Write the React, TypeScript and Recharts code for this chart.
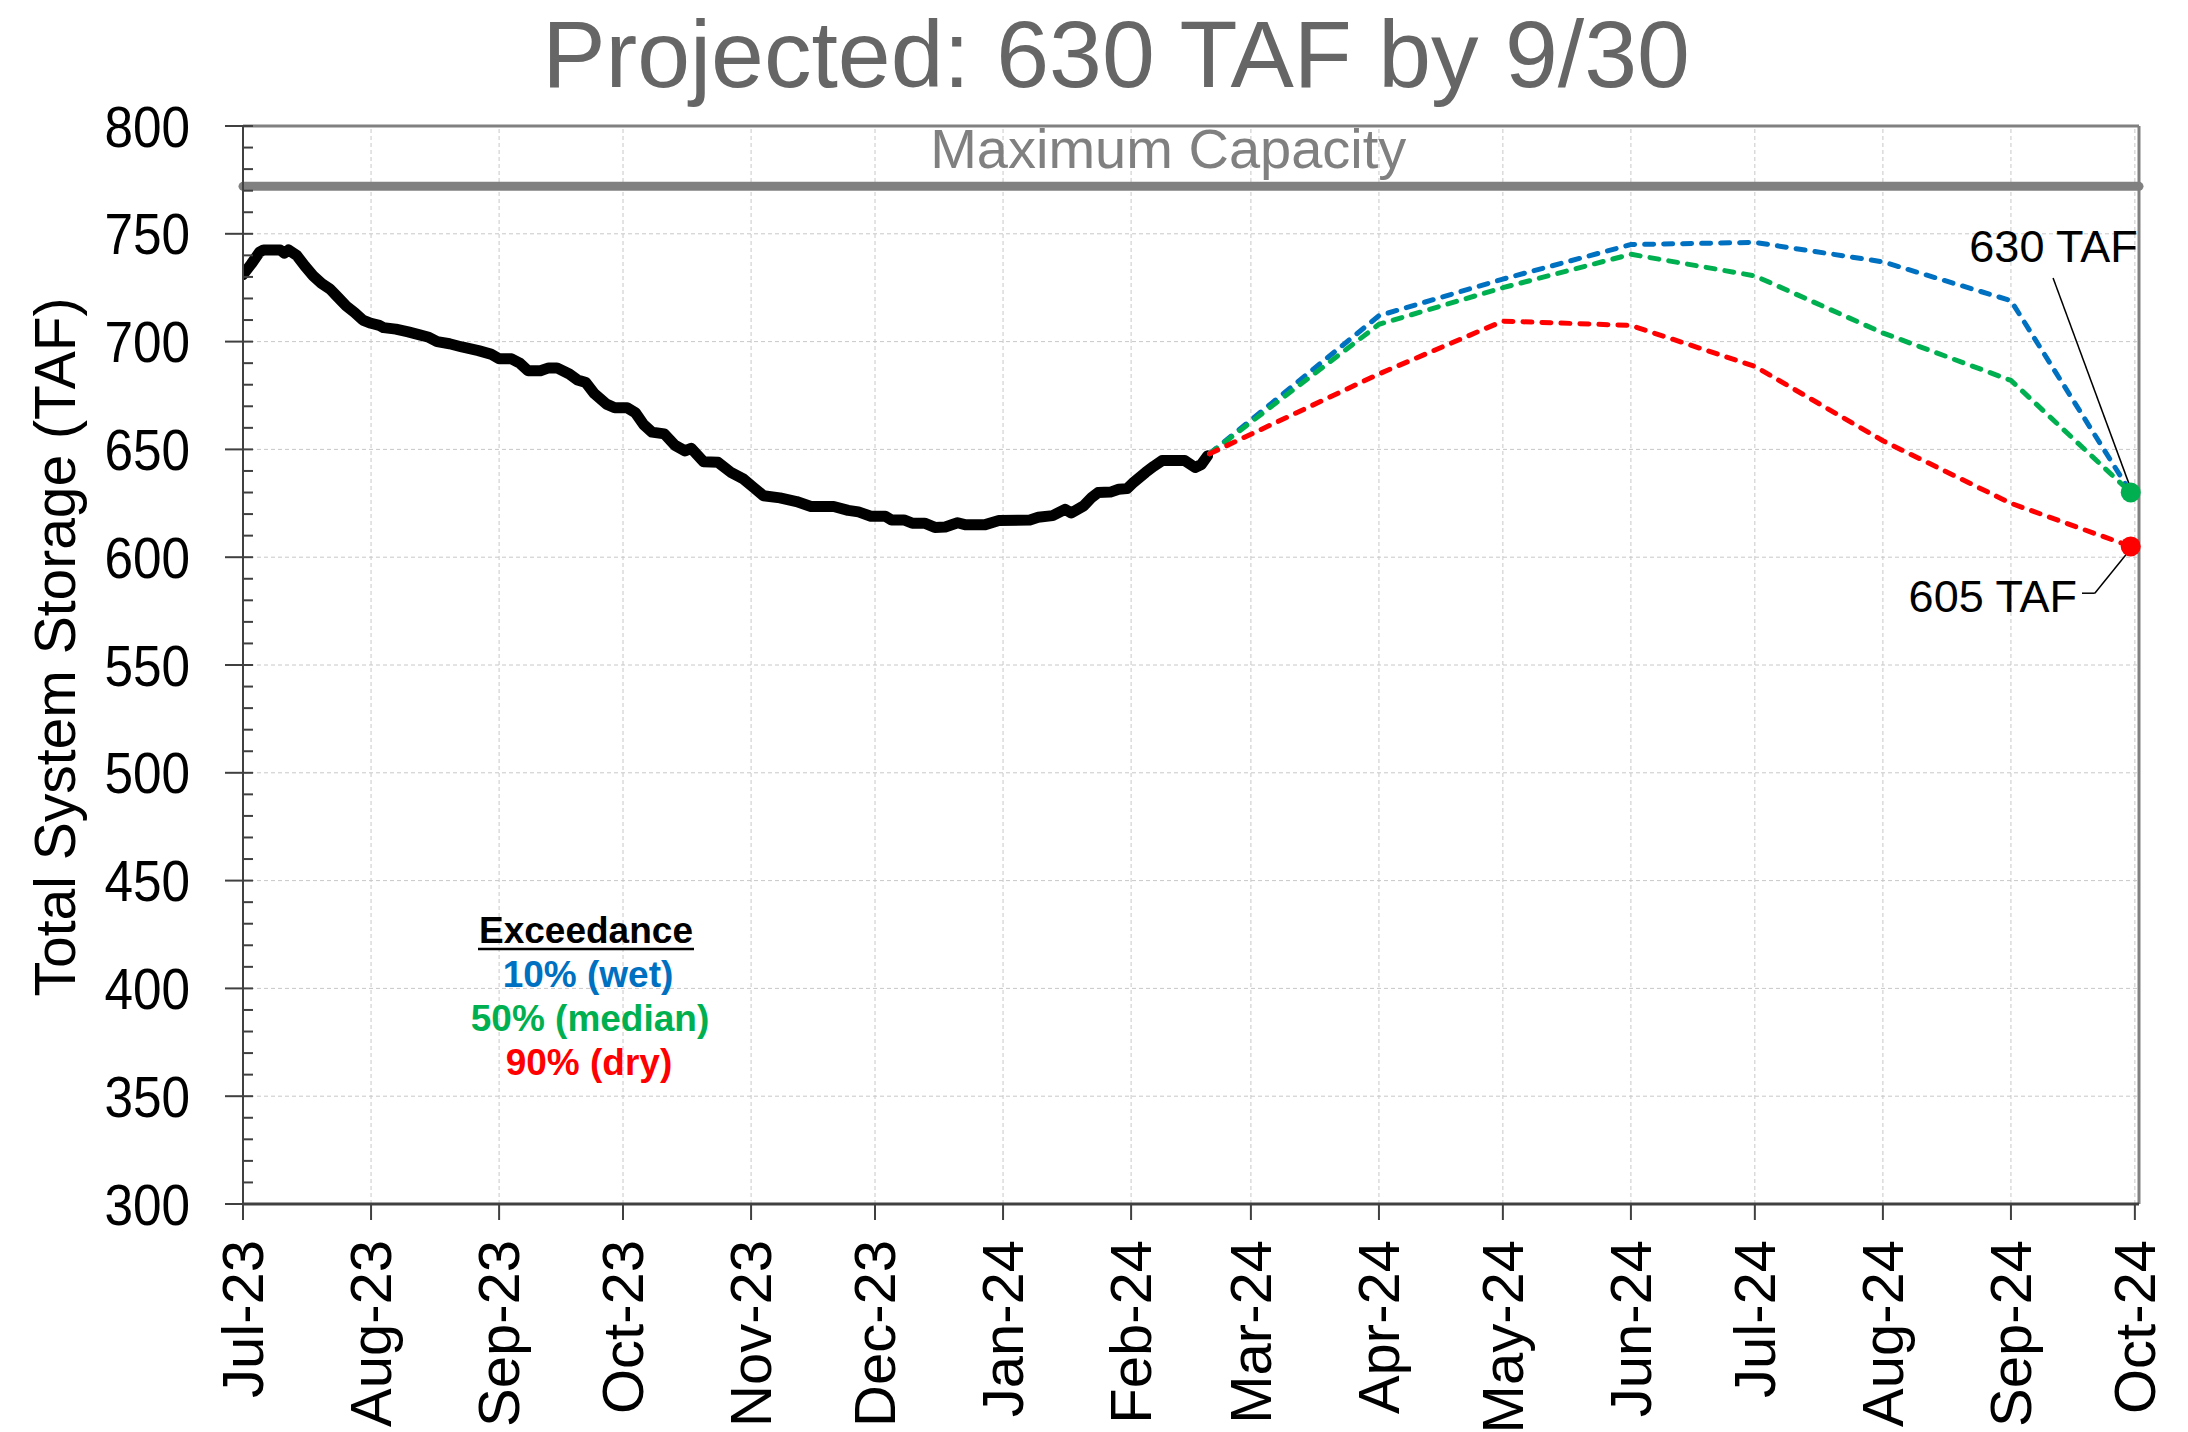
import React from 'react';
import { LineChart, Line, XAxis, YAxis, ReferenceLine, ReferenceDot } from 'recharts';

const FONT = '"Liberation Sans", Arial, Helvetica, sans-serif';

// X axis: days since 1 Jul 2023, ticks at month starts
const monthTickDays = [0, 31, 62, 92, 123, 153, 184, 215, 244, 275, 305, 336, 366, 397, 428, 458];
const monthTickLabels = ['Jul-23', 'Aug-23', 'Sep-23', 'Oct-23', 'Nov-23', 'Dec-23', 'Jan-24', 'Feb-24', 'Mar-24', 'Apr-24', 'May-24', 'Jun-24', 'Jul-24', 'Aug-24', 'Sep-24', 'Oct-24'];
const xMax = 459;

const yTickValues = [300, 310, 320, 330, 340, 350, 360, 370, 380, 390, 400, 410, 420, 430, 440, 450, 460, 470, 480, 490, 500, 510, 520, 530, 540, 550, 560, 570, 580, 590, 600, 610, 620, 630, 640, 650, 660, 670, 680, 690, 700, 710, 720, 730, 740, 750, 760, 770, 780, 790, 800];
const yGridValues = [350, 400, 450, 500, 550, 600, 650, 700, 750];

// Observed total system storage (TAF)
const historyDays = [0, 2, 4, 5, 9, 10, 11, 13, 15, 17, 19, 21, 23, 25, 27, 29, 31, 33, 34, 37, 40, 43, 45, 47, 50, 53, 57, 60, 62, 65, 67, 69, 72, 74, 76, 79, 81, 83, 85, 88, 90, 93, 95, 97, 99, 102, 104.5, 107, 108.5, 111.5, 115, 118, 121, 123.5, 126, 130, 134, 137.5, 143, 146.5, 149, 152, 155.5, 157, 160, 162, 165, 167.5, 170, 173, 175, 179.5, 183, 190.5, 192.5, 196, 199, 200.5, 203.5, 205.5, 207, 210, 212, 214, 215.5, 218.5, 220.5, 222.5, 228, 230.5, 232, 233.5];
const historyValues = [731, 736, 741.5, 742.5, 742.5, 741, 742.5, 740, 735, 730.5, 727, 724.5, 720.5, 716.5, 713.5, 710, 708.5, 707.5, 706.5, 705.8, 704.5, 703, 702, 700, 699, 697.5, 695.8, 694.2, 692, 692, 690, 686.5, 686.5, 687.8, 687.8, 685, 682.2, 681, 676, 671, 669.3, 669.3, 667, 661.5, 658, 657.2, 652, 649.3, 650.5, 644.3, 644, 639.5, 636.5, 632.5, 628.5, 627.5, 625.8, 623.5, 623.5, 621.7, 621, 619, 619, 617.3, 617.3, 615.8, 615.8, 613.8, 614, 616, 615, 615, 617, 617.3, 618.5, 619.3, 622.2, 620.5, 623.8, 627.8, 630, 630.2, 631.5, 631.8, 634.5, 639.3, 642.2, 644.8, 644.8, 641.6, 643, 647];

// Projections
const projectionDays = [234, 275, 305, 336, 366, 397, 428, 457];
const wetValues = [648, 712, 729, 745, 746, 737, 719, 630];
const medianValues = [648, 708, 725, 740.5, 730.5, 704, 682, 630];
const dryValues = [648, 685, 709.5, 707.5, 688.5, 654, 625, 605];

const maxCapacity = 772;

const WET = '#0070C0';
const MEDIAN = '#00B050';
const DRY = '#FF0000';

const toPoints = (days: number[], values: number[]) => days.map((d, i) => ({ day: d, value: values[i] }));

const XTick = (props: any) => {
  const { x, y, payload } = props;
  const idx = monthTickDays.indexOf(payload.value);
  const label = idx >= 0 ? monthTickLabels[idx] : '';
  return (
    <text
      x={0}
      y={0}
      transform={`translate(${x + 20}, ${y + 18}) rotate(-90)`}
      textAnchor="end"
      fontSize={58}
      fontFamily={FONT}
      fill="#000"
    >
      {label}
    </text>
  );
};

const YTick = (props: any) => {
  const { x, y, payload } = props;
  const v = payload.value;
  const major = v % 50 === 0;
  return (
    <g>
      {major ? (
        <line x1={x - 18} x2={x + 10} y1={y} y2={y} stroke="#404040" strokeWidth={2} />
      ) : (
        <line x1={x} x2={x + 10} y1={y} y2={y} stroke="#404040" strokeWidth={2} />
      )}
      {major && (
        <text
          x={0}
          y={0}
          dy="0.36em"
          transform={`translate(${x - 53}, ${y}) scale(0.9, 1)`}
          textAnchor="end"
          fontSize={57}
          fontFamily={FONT}
          fill="#000"
        >
          {v}
        </text>
      )}
    </g>
  );
};

export default function App() {
  const history = toPoints(historyDays, historyValues);
  const wet = toPoints(projectionDays, wetValues);
  const median = toPoints(projectionDays, medianValues);
  const dry = toPoints(projectionDays, dryValues);
  const last = projectionDays.length - 1;
  const endDay = projectionDays[last];
  const medianEnd = medianValues[last];
  const dryEnd = dryValues[last];

  const dashProps = {
    strokeWidth: 5,
    strokeDasharray: '9 10',
    strokeLinecap: 'round' as const,
    dot: false,
    activeDot: false,
    isAnimationActive: false,
    type: 'linear' as const,
  };

  return (
    <div style={{ position: 'absolute', left: 0, top: 0, width: 2188, height: 1432, background: '#fff' }}>
      <LineChart width={2188} height={1432} margin={{ top: 126, right: 49, bottom: 28, left: 93 }}>
        <XAxis
          type="number"
          dataKey="day"
          domain={[0, xMax]}
          ticks={monthTickDays}
          interval={0}
          tickSize={16}
          tickLine={{ stroke: '#404040', strokeWidth: 2 }}
          axisLine={{ stroke: '#404040', strokeWidth: 3 }}
          tick={<XTick />}
          height={200}
          allowDataOverflow
        />
        <YAxis
          type="number"
          domain={[300, 800]}
          ticks={yTickValues}
          interval={0}
          tickSize={0}
          tickMargin={0}
          tickLine={false}
          axisLine={{ stroke: '#404040', strokeWidth: 2 }}
          tick={<YTick />}
          width={150}
          allowDataOverflow
        />
        {monthTickDays.slice(1).map((d) => (
          <ReferenceLine key={'vx' + d} x={d} stroke="#c8c8c8" strokeWidth={1} strokeDasharray="4 3" />
        ))}
        {yGridValues.map((v) => (
          <ReferenceLine key={'hy' + v} y={v} stroke="#c8c8c8" strokeWidth={1} strokeDasharray="4 3" />
        ))}
        <ReferenceLine y={800} stroke="#808080" strokeWidth={3} />
        <ReferenceLine x={xMax} stroke="#808080" strokeWidth={3} />
        <ReferenceLine y={maxCapacity} stroke="#808080" strokeWidth={9} strokeLinecap="round" />
        <ReferenceDot
          x={224}
          y={maxCapacity}
          r={0}
          shape={(p: any) => (
            <text x={p.cx} y={p.cy - 18} textAnchor="middle" fontSize={56} fontFamily={FONT} fill="#808080">
              Maximum Capacity
            </text>
          )}
        />
        <Line data={history} dataKey="value" stroke="#000" strokeWidth={11} strokeLinejoin="round" strokeLinecap="round" dot={false} activeDot={false} isAnimationActive={false} type="linear" />
        <Line data={wet} dataKey="value" stroke={WET} {...dashProps} />
        <Line data={median} dataKey="value" stroke={MEDIAN} {...dashProps} />
        <Line data={dry} dataKey="value" stroke={DRY} {...dashProps} />
        <ReferenceLine segment={[{ x: 438.2, y: 729.5 }, { x: 457.3, y: 630.3 }]} stroke="#000" strokeWidth={1.5} />
        <ReferenceLine segment={[{ x: 445.2, y: 583.3 }, { x: 448.3, y: 583.3 }]} stroke="#000" strokeWidth={1.5} />
        <ReferenceLine segment={[{ x: 448.3, y: 583.3 }, { x: 457.3, y: 604.6 }]} stroke="#000" strokeWidth={1.5} />
        <ReferenceDot x={endDay} y={medianEnd} r={10} fill={MEDIAN} stroke="none" />
        <ReferenceDot x={endDay} y={dryEnd} r={10} fill={DRY} stroke="none" />
        <ReferenceDot
          x={458.7}
          y={736.9}
          r={0}
          shape={(p: any) => (
            <text x={p.cx} y={p.cy} textAnchor="end" fontSize={45} fontFamily={FONT} fill="#000">
              630 TAF
            </text>
          )}
        />
        <ReferenceDot
          x={444}
          y={574.5}
          r={0}
          shape={(p: any) => (
            <text x={p.cx} y={p.cy} textAnchor="end" fontSize={45} fontFamily={FONT} fill="#000">
              605 TAF
            </text>
          )}
        />
      </LineChart>
      <svg
        width={2188}
        height={1432}
        style={{ position: 'absolute', left: 0, top: 0, pointerEvents: 'none' }}
      >
        <text x={1116} y={87} textAnchor="middle" fontSize={95} fontFamily={FONT} fill="#666666">
          Projected: 630 TAF by 9/30
        </text>
        <text
          transform="translate(75, 647) rotate(-90)"
          textAnchor="middle"
          fontSize={57}
          fontFamily={FONT}
          fill="#000"
        >
          Total System Storage (TAF)
        </text>
        <text x={586} y={943} textAnchor="middle" fontSize={37} fontWeight="bold" fontFamily={FONT} fill="#000">
          Exceedance
        </text>
        <line x1={478} x2={694} y1={949} y2={949} stroke="#000" strokeWidth={2.5} />
        <text x={588} y={987} textAnchor="middle" fontSize={37} fontWeight="bold" fontFamily={FONT} fill={WET}>
          10% (wet)
        </text>
        <text x={590} y={1031} textAnchor="middle" fontSize={37} fontWeight="bold" fontFamily={FONT} fill={MEDIAN}>
          50% (median)
        </text>
        <text x={589} y={1075} textAnchor="middle" fontSize={37} fontWeight="bold" fontFamily={FONT} fill={DRY}>
          90% (dry)
        </text>
      </svg>
    </div>
  );
}
